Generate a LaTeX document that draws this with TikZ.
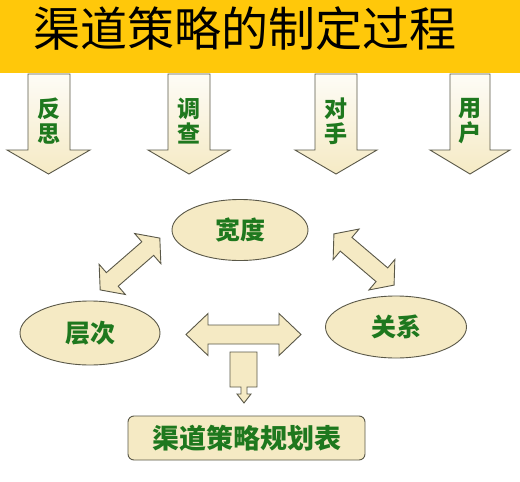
\documentclass[tikz,border=0pt]{standalone}
\usepackage{fontspec}
\newfontfamily\cjk{Noto Sans CJK SC}
\usetikzlibrary{shapes.geometric}
\definecolor{banner}{RGB}{255,200,10}
\definecolor{beige}{RGB}{245,234,196}
\definecolor{edge}{RGB}{90,88,72}
\definecolor{txtgreen}{RGB}{30,120,30}
\tikzset{
  blk/.style={draw=edge,line width=0.9pt,fill=beige,line join=miter},
  downarr/.style={draw=edge,line width=0.9pt,top color=white!85!beige,bottom color=beige,line join=miter},
  oval/.style={ellipse,draw=edge,line width=0.9pt,fill=beige,inner sep=0pt},
  gtext/.style={text=txtgreen,font=\cjk\bfseries\fontsize{25}{25}\selectfont},
  vtext/.style={text=txtgreen,align=center,font=\cjk\bfseries\fontsize{23}{25}\selectfont},
}
\newcommand\DblArr[7]{\begin{scope}[shift={(#1,#2)},rotate=#3]
\draw[blk] (-#4,0) -- (-#4+#7,#6) -- (-#4+#7,#5) -- (#4-#7,#5) -- (#4-#7,#6) -- (#4,0) -- (#4-#7,-#6) -- (#4-#7,-#5) -- (-#4+#7,-#5) -- (-#4+#7,-#6) -- cycle;
\end{scope}}
\newcommand\DownArr[4]{% shaft left, shaft right, head left, head right
\draw[downarr] (#1,74) -- (#2,74) -- (#2,150) -- (#4,150) -- ({(#3+#4)/2},174) -- (#3,150) -- (#1,150) -- cycle;}
\begin{document}
\begin{tikzpicture}[x=1pt,y=-1pt]
\useasboundingbox (0,0) rectangle (520,482);
\fill[white] (0,0) rectangle (520,482);
% banner
\fill[banner] (0,0) rectangle (520,73);
\node[font=\cjk\fontsize{47}{47}\selectfont,text=black,inner sep=0pt] (title) at (245,29) {渠道策略的制定过程};
% down arrows
\DownArr{28}{70}{7}{90}
\DownArr{168}{210}{148}{230}
\DownArr{315}{357}{295}{377}
\DownArr{450}{490}{430}{510}
\node[vtext] (a1) at (49,121) {反\\思};
\node[vtext] (a2) at (189,121) {调\\查};
\node[vtext] (a3) at (336,121) {对\\手};
\node[vtext] (a4) at (470,121) {用\\户};
% ellipses
\node[oval,minimum width=136pt,minimum height=61pt] (kd) at (240,230) {};
\node[gtext] at (kd) {宽度};
\node[oval,minimum width=140pt,minimum height=64pt] (cc) at (90,333) {};
\node[gtext] at (cc) {层次};
\node[oval,minimum width=141pt,minimum height=62pt] (gx) at (396,327) {};
\node[gtext] at (gx) {关系};
% double arrows
\DblArr{130}{264}{41}{39.5}{9}{20}{16}
\DblArr{364}{259.5}{-40.4}{39.5}{9}{20}{16}
\DblArr{243.5}{334.5}{0}{57.5}{9.5}{21}{22}
% small down arrow
\draw[blk] (230,352) -- (257,352) -- (257,387) -- (247,387) -- (247,394) -- (251,394) -- (244,403) -- (237,394) -- (241,394) -- (241,387) -- (230,387) -- cycle;
% bottom box
\node[draw=edge,line width=0.9pt,fill=beige,rounded corners=6pt,minimum width=237pt,minimum height=44pt,inner sep=0pt] (plan) at (246.5,438) {};
\node[text=txtgreen,font=\cjk\bfseries\fontsize{27}{27}\selectfont] at (plan) {渠道策略规划表};
\end{tikzpicture}
\end{document}
